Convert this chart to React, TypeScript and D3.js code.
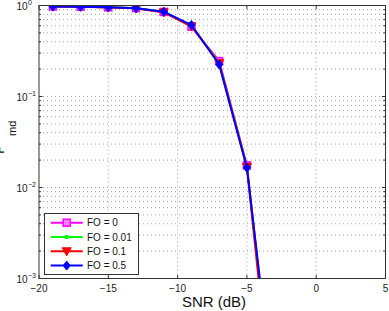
import React from "react";
import * as d3 from "d3";

// SNR sweep (dB) and missed-detection probability per frequency offset
const snr = [-19, -17, -15, -13, -11, -9, -7, -5, -3];
const pmdFO0 = [0.975, 0.97, 0.955, 0.935, 0.85, 0.585, 0.245, 0.0175, 3e-5];
const pmdFO001 = [0.975, 0.97, 0.957, 0.937, 0.855, 0.595, 0.235, 0.0172, 3e-5];
const pmdFO01 = [0.972, 0.968, 0.95, 0.93, 0.84, 0.59, 0.232, 0.0168, 2e-5];
const pmdFO05 = [0.975, 0.97, 0.955, 0.935, 0.855, 0.61, 0.225, 0.0165, 4e-5];

const xTicks = [-20, -15, -10, -5, 0, 5];
const yDecades = [0, -1, -2, -3];
const legendLabels = ["FO = 0", "FO = 0.01", "FO = 0.1", "FO = 0.5"];

const W = 389;
const H = 311;
const L = 39;
const R = 385.5;
const T = 5.5;
const B = 278.5;

type Marker = "square" | "dot" | "tri" | "diamond";

const seriesList: { values: number[]; color: string; marker: Marker }[] = [
  { values: pmdFO0, color: "#ff00ff", marker: "square" },
  { values: pmdFO001, color: "#00ff00", marker: "dot" },
  { values: pmdFO01, color: "#ff0000", marker: "tri" },
  { values: pmdFO05, color: "#0000ff", marker: "diamond" },
];

function MarkerShape({ type, x, y, color }: { type: Marker; x: number; y: number; color: string }) {
  if (type === "square")
    return <rect x={x - 3.5} y={y - 3.5} width={7} height={7} fill="#ff80ff" stroke={color} strokeWidth={1.5} />;
  if (type === "dot") return <circle cx={x} cy={y} r={2.2} fill={color} />;
  if (type === "tri")
    return <path d={`M${x - 4.5},${y - 3.5}L${x + 4.5},${y - 3.5}L${x},${y + 4.5}Z`} fill={color} stroke={color} strokeWidth={1} />;
  return <path d={`M${x},${y - 4.5}L${x + 3.5},${y}L${x},${y + 4.5}L${x - 3.5},${y}Z`} fill={color} stroke={color} strokeWidth={1} />;
}

export default function App() {
  const x = d3.scaleLinear().domain([-20, 5]).range([L, R]);
  const y = d3.scaleLog().domain([1e-3, 1]).range([B, T]);

  const line = d3
    .line<number>()
    .x((_, i) => x(snr[i]))
    .y((v) => y(v));

  const minorY: number[] = [];
  for (let e = -3; e < 0; e++) for (let k = 2; k <= 9; k++) minorY.push(k * Math.pow(10, e));

  const font = "'Liberation Sans', Arial, Helvetica, sans-serif";
  const gridStyle = { stroke: "#8a8a8a", strokeWidth: 0.8, strokeDasharray: "1,3" };

  return (
    <svg width={W} height={H} style={{ position: "absolute", left: 0, top: 0 }} fontFamily={font}>
      <rect x={0} y={0} width={W} height={H} fill="#fff" />
      <defs>
        <clipPath id="plotArea">
          <rect x={L} y={T} width={R - L} height={B - T} />
        </clipPath>
      </defs>

      {/* grid */}
      {xTicks.slice(1, -1).map((t) => (
        <line key={"gx" + t} x1={x(t)} x2={x(t)} y1={T} y2={B} {...gridStyle} />
      ))}
      {yDecades.slice(1, -1).map((e) => (
        <line key={"gy" + e} x1={L} x2={R} y1={y(Math.pow(10, e))} y2={y(Math.pow(10, e))} {...gridStyle} />
      ))}
      {minorY.map((v) => (
        <line key={"gm" + v} x1={L} x2={R} y1={y(v)} y2={y(v)} {...gridStyle} />
      ))}

      {/* ticks */}
      {xTicks.map((t) => (
        <g key={"tx" + t}>
          <line x1={x(t)} x2={x(t)} y1={B} y2={B - 3.5} stroke="#333" />
          <line x1={x(t)} x2={x(t)} y1={T} y2={T + 3.5} stroke="#333" />
          <text x={x(t)} y={292} fontSize={10} textAnchor="middle" fill="#222">
            {t < 0 ? "\u2212" + Math.abs(t) : String(t)}
          </text>
        </g>
      ))}
      {yDecades.map((e) => {
        const yy = y(Math.pow(10, e));
        return (
          <g key={"ty" + e}>
            <line x1={L} x2={L + 3.5} y1={yy} y2={yy} stroke="#333" />
            <line x1={R} x2={R - 3.5} y1={yy} y2={yy} stroke="#333" />
            <text x={27.5} y={yy + 4} fontSize={10} textAnchor="end" fill="#222">
              10
            </text>
            <text x={28} y={yy - 0.5} fontSize={7} textAnchor="start" fill="#222">
              {e === 0 ? "0" : "\u2212" + Math.abs(e)}
            </text>
          </g>
        );
      })}
      {minorY.map((v) => (
        <g key={"my" + v}>
          <line x1={L} x2={L + 2} y1={y(v)} y2={y(v)} stroke="#333" />
          <line x1={R} x2={R - 2} y1={y(v)} y2={y(v)} stroke="#333" />
        </g>
      ))}

      {/* data */}
      <g clipPath="url(#plotArea)">
        {seriesList.map((s, si) => (
          <g key={"s" + si}>
            <path d={line(s.values) || ""} fill="none" stroke={s.color} strokeWidth={2} />
            {s.values.map((v, i) => (
              <MarkerShape key={i} type={s.marker} x={x(snr[i])} y={y(v)} color={s.color} />
            ))}
          </g>
        ))}
      </g>

      {/* frame */}
      <rect x={L} y={T} width={R - L} height={B - T} fill="none" stroke="#333" strokeWidth={1} />

      {/* axis labels */}
      <text x={214} y={307} fontSize={15} textAnchor="middle" fill="#111">
        SNR (dB)
      </text>
      <text transform="translate(4,154) rotate(-90)" fontSize={15} fill="#111">
        P
      </text>
      <text transform="translate(15.5,136) rotate(-90)" fontSize={11} fill="#111">
        md
      </text>

      {/* legend */}
      <rect x={44.5} y={213.5} width={94} height={61} fill="#fff" stroke="#333" strokeWidth={1} />
      {seriesList.map((s, i) => {
        const ly = 222.7 + i * 14.3;
        return (
          <g key={"lg" + i}>
            <line x1={50.7} x2={82.7} y1={ly} y2={ly} stroke={s.color} strokeWidth={2} />
            <MarkerShape type={s.marker} x={66.7} y={ly} color={s.color} />
            <text x={87} y={ly + 3.6} fontSize={10} fill="#111">
              {legendLabels[i]}
            </text>
          </g>
        );
      })}
    </svg>
  );
}
